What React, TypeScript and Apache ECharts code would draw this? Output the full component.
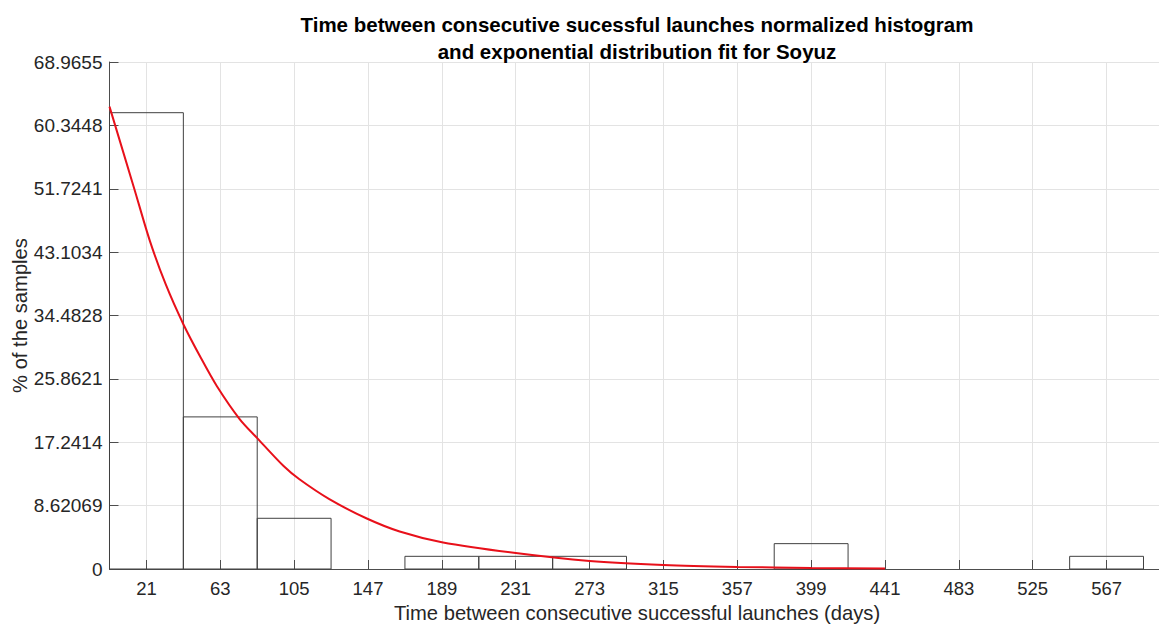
import React, { useEffect, useRef } from "react";
import * as echarts from "echarts";

// Histogram bins (days) and normalized percentages
const binStarts = [0, 42, 84, 126, 168, 210, 252, 294, 336, 378, 420, 462, 504, 546];
const binEnds = [42, 84, 126, 168, 210, 252, 294, 336, 378, 420, 462, 504, 546, 588];
const binPercent = [62.07, 20.69, 6.897, 0, 1.724, 1.724, 1.724, 0, 0, 3.448, 0, 0, 0, 1.724];

// Exponential fit curve
const fitX = [0, 14, 23, 32, 42, 52, 61, 74, 84, 99, 108, 125, 146, 165, 189, 231, 273, 315, 357, 399, 441];
const fitY = [62.9, 51.8, 44.6, 38.7, 33.3, 28.7, 24.9, 20.4, 17.8, 14.0, 12.2, 9.5, 6.9, 5.1, 3.65, 2.17, 1.1, 0.55, 0.28, 0.14, 0.07];

// Tick labels
const xTicks = [21, 63, 105, 147, 189, 231, 273, 315, 357, 399, 441, 483, 525, 567];
const yTickLabels = ["0", "8.62069", "17.2414", "25.8621", "34.4828", "43.1034", "51.7241", "60.3448", "68.9655"];
const yMax = 68.9655;
const yInterval = 68.9655 / 8;

const FONT = "'Liberation Sans', Arial, Helvetica, sans-serif";

export default function App() {
  const ref = useRef<HTMLDivElement>(null);

  useEffect(() => {
    if (!ref.current) return;
    const chart = echarts.init(ref.current, null, { renderer: "svg" });

    const barData = binStarts
      .map((s, i) => [s, binEnds[i], binPercent[i]])
      .filter((d) => d[2] > 0);
    const fitData = fitX.map((x, i) => [x, fitY[i]]);

    chart.setOption({
      animation: false,
      backgroundColor: "#ffffff",
      title: {
        text: "Time between consecutive sucessful launches normalized histogram\nand exponential distribution fit for Soyuz",
        left: 632,
        top: 6,
        textAlign: "center",
        textStyle: {
          fontFamily: FONT,
          fontSize: 20.5,
          fontWeight: "bold",
          color: "#000000",
          lineHeight: 27,
        },
      },
      grid: {
        left: 109.5,
        right: 5.4,
        top: 62,
        bottom: 58,
        containLabel: false,
        outerBoundsMode: "none",
      },
      xAxis: {
        type: "value",
        min: 0,
        max: 600,
        name: "Time between consecutive successful launches (days)",
        nameLocation: "middle",
        nameGap: 30,
        nameTextStyle: { fontFamily: FONT, fontSize: 20.2, color: "#262626" },
        axisLine: { onZero: false, lineStyle: { color: "#4d4d4d", width: 1 } },
        axisTick: {
          inside: true,
          length: 9,
          customValues: xTicks,
          lineStyle: { color: "#4d4d4d" },
        },
        axisLabel: {
          customValues: xTicks,
          margin: 10,
          fontFamily: FONT,
          fontSize: 18.5,
          color: "#262626",
        },
        splitLine: { show: true, lineStyle: { color: "#e3e3e3", width: 1 } },
      },
      yAxis: {
        type: "value",
        min: 0,
        max: yMax,
        interval: yInterval,
        name: "% of the samples",
        nameLocation: "middle",
        nameGap: 80,
        nameMoveOverlap: false,
        nameTextStyle: { fontFamily: FONT, fontSize: 20.2, color: "#262626" },
        axisLine: { show: true, lineStyle: { color: "#4d4d4d", width: 1 } },
        axisTick: { show: true, inside: true, length: 9, lineStyle: { color: "#4d4d4d" } },
        axisLabel: {
          margin: 7,
          fontFamily: FONT,
          fontSize: 19,
          color: "#262626",
          formatter: (v: number) => {
            const i = Math.round(v / yInterval);
            return yTickLabels[i] ?? "";
          },
        },
        splitLine: { show: true, lineStyle: { color: "#e3e3e3", width: 1 } },
      },
      series: [
        {
          type: "custom",
          name: "histogram",
          data: barData,
          z: 2,
          renderItem: (params: any, api: any) => {
            const x0 = api.value(0);
            const x1 = api.value(1);
            const h = api.value(2);
            const p0 = api.coord([x0, h]);
            const p1 = api.coord([x1, 0]);
            return {
              type: "rect",
              shape: { x: p0[0], y: p0[1], width: p1[0] - p0[0], height: p1[1] - p0[1] },
              style: { fill: "none", stroke: "#404040", lineWidth: 1 },
            };
          },
        },
        {
          type: "line",
          name: "fit",
          data: fitData,
          smooth: 0.3,
          showSymbol: false,
          symbol: "none",
          z: 3,
          lineStyle: { color: "#e8101a", width: 2 },
        },
      ],
    });

    return () => chart.dispose();
  }, []);

  return (
    <div
      style={{
        position: "fixed",
        left: 0,
        top: 0,
        width: 1159,
        height: 627,
        overflow: "hidden",
        background: "#ffffff",
      }}
    >
      <div ref={ref} style={{ width: 1170, height: 627 }} />
    </div>
  );
}
